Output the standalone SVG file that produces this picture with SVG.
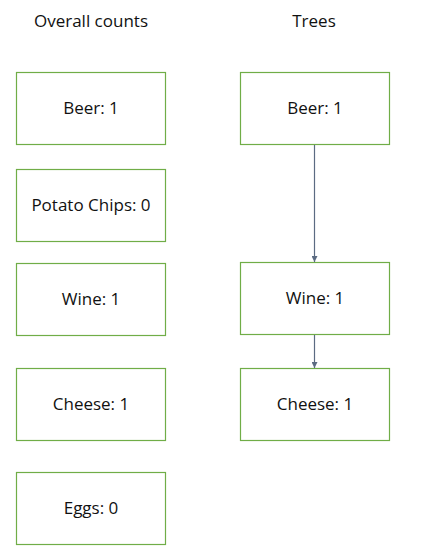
<svg xmlns="http://www.w3.org/2000/svg" width="423" height="560" viewBox="0 0 423 560">
<defs>
<style>
.box{fill:#fff;stroke:#70AD47;stroke-width:1.2}
text{font-family:"Open Sans","Liberation Sans",sans-serif;font-size:17px;fill:#111;text-anchor:middle}
.conn{stroke:#5B6B82;stroke-width:1.2;fill:none}
</style>
<marker id="arr" viewBox="0 0 10 10" refX="10" refY="5" markerWidth="6" markerHeight="6" markerUnits="userSpaceOnUse" orient="auto">
<path d="M0,0 L10,5 L0,10 z" fill="#5B6B82"/>
</marker>
</defs>
<rect width="423" height="560" fill="#fff"/>
<text x="91" y="27">Overall counts</text>
<text x="314" y="27">Trees</text>
<g id="oc-beer"><rect class="box" x="16.5" y="72.5" width="149" height="72"/><text x="91" y="114">Beer: 1</text></g>
<g id="oc-chips"><rect class="box" x="16.5" y="169.5" width="149" height="72"/><text x="91" y="211">Potato Chips: 0</text></g>
<g id="oc-wine"><rect class="box" x="16.5" y="263.5" width="149" height="72"/><text x="91" y="305">Wine: 1</text></g>
<g id="oc-cheese"><rect class="box" x="16.5" y="368.5" width="149" height="72"/><text x="91" y="410">Cheese: 1</text></g>
<g id="oc-eggs"><rect class="box" x="16.5" y="472.5" width="149" height="72"/><text x="91" y="514">Eggs: 0</text></g>
<g id="t-beer"><rect class="box" x="240.5" y="72.5" width="149" height="72"/><text x="315" y="114">Beer: 1</text></g>
<g id="t-wine"><rect class="box" x="240.5" y="262.5" width="149" height="72"/><text x="315" y="304">Wine: 1</text></g>
<g id="t-cheese"><rect class="box" x="240.5" y="368.5" width="149" height="72"/><text x="315" y="410">Cheese: 1</text></g>
<g id="connectors">
<line class="conn" x1="314.5" y1="145" x2="314.5" y2="262" marker-end="url(#arr)"/>
<line class="conn" x1="314.5" y1="335" x2="314.5" y2="368" marker-end="url(#arr)"/>
</g>
</svg>
